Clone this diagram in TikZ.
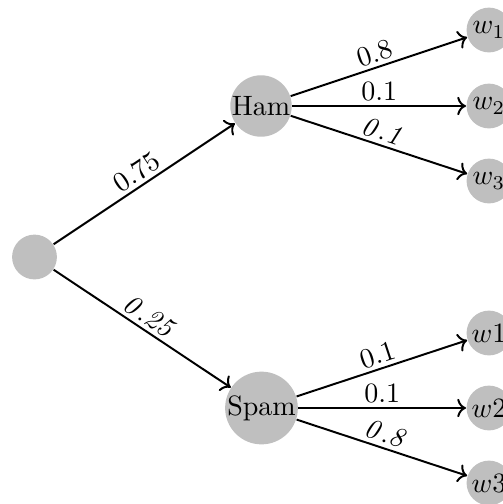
\documentclass[tikz,border=0pt]{standalone}
\usetikzlibrary{arrows.meta}
\begin{document}
\begin{tikzpicture}[x=0.3571pt,y=-0.3571pt,
  dot/.style={circle,fill=black!25,inner sep=0pt,minimum size=16pt},
  big/.style={circle,fill=black!25,inner sep=0pt},
  edge/.style={->,line width=0.7pt},
  lab/.style={above,sloped,inner sep=1.5pt}]
\useasboundingbox (0,0) rectangle (503,504);
\node[dot] (r) at (34.5,257) {};
\node[big] (ham) at (261,106) {Ham};
\node[big] (spam) at (261.5,408) {Spam};
\node[dot] (a1) at (489,30) {$w_1$};
\node[dot] (a2) at (489,106) {$w_2$};
\node[dot] (a3) at (489,181) {$w_3$};
\node[dot] (b1) at (489,333) {$w1$};
\node[dot] (b2) at (489,408) {$w2$};
\node[dot] (b3) at (489,483) {$w3$};
\draw[edge] (r) -- node[lab] {$0.75$} (ham);
\draw[edge] (r) -- node[lab] {$\mathit{0.25}$} (spam);
\draw[edge] (ham) -- node[lab] {$0.8$} (a1);
\draw[edge] (ham) -- node[lab] {$0.1$} (a2);
\draw[edge] (ham) -- node[lab] {$\mathit{0.1}$} (a3);
\draw[edge] (spam) -- node[lab] {$0.1$} (b1);
\draw[edge] (spam) -- node[lab] {$0.1$} (b2);
\draw[edge] (spam) -- node[lab] {$\mathit{0.8}$} (b3);
\end{tikzpicture}
\end{document}
